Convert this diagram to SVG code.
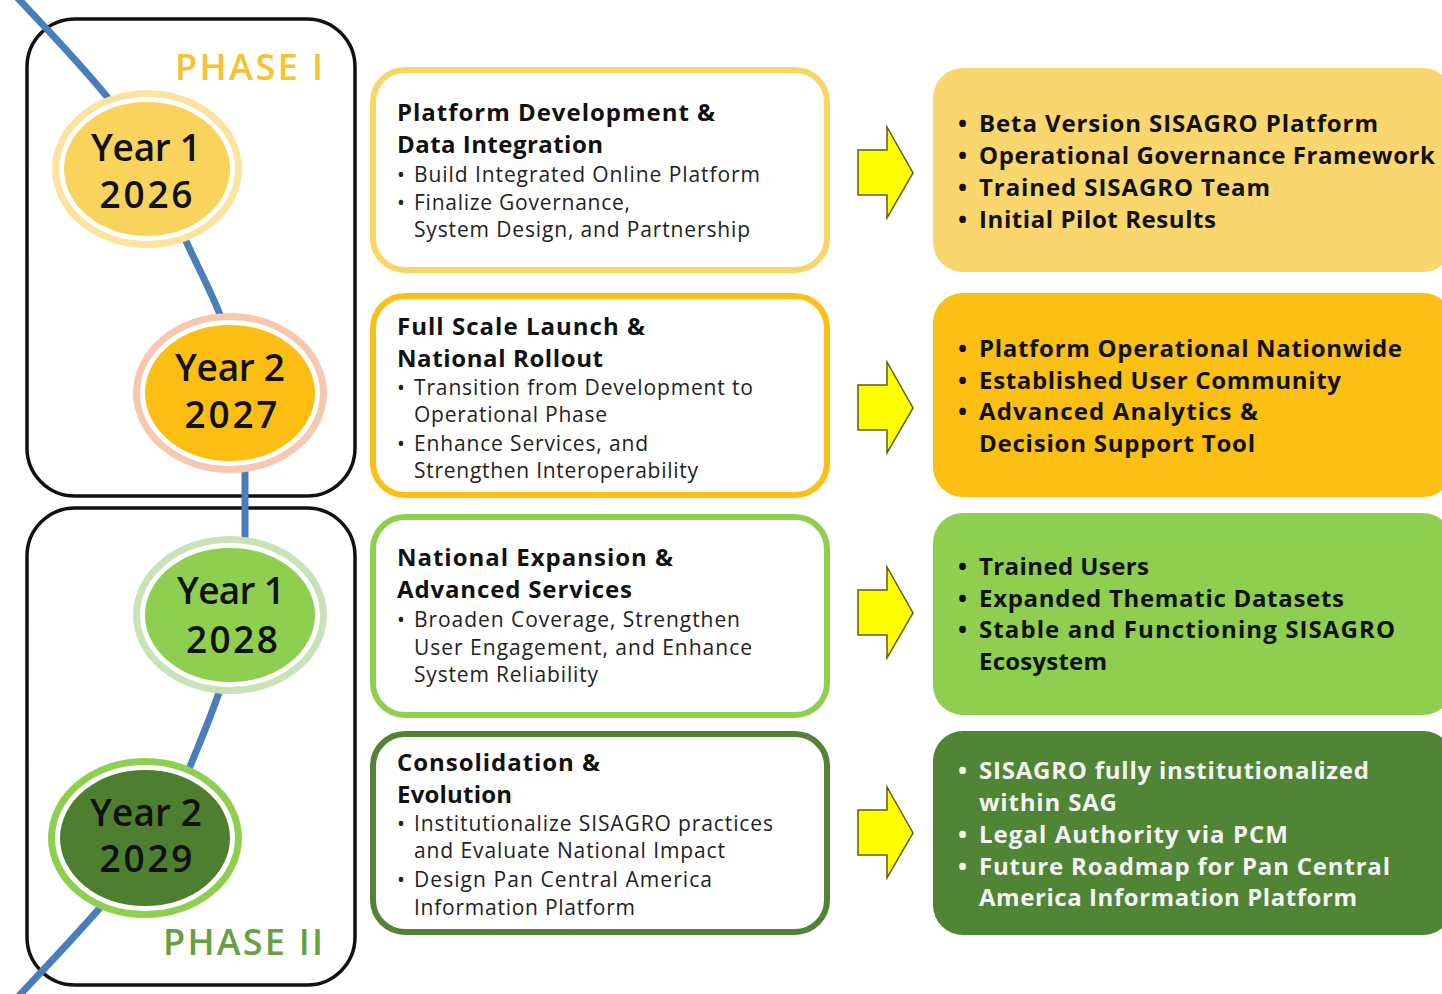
<svg xmlns="http://www.w3.org/2000/svg" xmlns:xlink="http://www.w3.org/1999/xlink" width="1442" height="994" viewBox="0 0 1442 994">
  <style>
    text { font-family: "Open Sans", "Noto Sans", "Liberation Sans", sans-serif; }
    .phasebox { fill: none; stroke: #111; stroke-width: 3.5; }
    .phase { font-size: 36px; font-weight: 600; }
    .year { font-size: 37px; font-weight: 600; fill: #111; text-anchor: middle; }
    .task { fill: #fff; stroke-width: 6; }
    .title { font-size: 24px; font-weight: 700; fill: #111; }
    .item { font-size: 21px; font-weight: 400; fill: #222; }
    .out { font-size: 24px; font-weight: 700; fill: #111; }
    .out.light { fill: #f4f4f4; }
    .timeline { fill: none; stroke: #4a7ebb; stroke-width: 7; }
    .flow { fill: #ffff00; stroke: #5e5e10; stroke-width: 1.5; stroke-linejoin: miter; }
  </style>
  <defs>
    <path id="flowArrow" d="M858 -23 L887 -23 L887 -46 L913 0 L887 45 L887 22 L858 22 Z"/>
  </defs>

  <rect width="1442" height="994" fill="#fff"/>

  <!-- phase frames -->
  <g id="phase-1">
    <rect class="phasebox" x="27" y="19" width="328" height="477" rx="48"/>
    <text class="phase" x="175" y="80" fill="#f7c22e" textLength="148" lengthAdjust="spacing">PHASE I</text>
  </g>
  <g id="phase-2">
    <rect class="phasebox" x="27" y="508" width="328" height="477" rx="48"/>
    <text class="phase" x="163" y="955" fill="#66a043" textLength="160" lengthAdjust="spacing">PHASE II</text>
  </g>

  <!-- connectors: timeline curve and flow arrows -->
  <g id="connectors">
    <path class="timeline" d="M14 -6 C70 55 150 130 175 215 C195 270 235 320 240 400 L245 470 L245 560 C245 640 210 720 180 790 C150 860 90 920 15 1000"/>
    <use xlink:href="#flowArrow" class="flow" transform="translate(0 173)"/>
    <use xlink:href="#flowArrow" class="flow" transform="translate(0 408)"/>
    <use xlink:href="#flowArrow" class="flow" transform="translate(0 613)"/>
    <use xlink:href="#flowArrow" class="flow" transform="translate(0 833)"/>
  </g>

  <!-- year milestones -->
  <g id="year-2026">
    <ellipse cx="147" cy="169" rx="95" ry="79" fill="#fce3a0"/>
    <ellipse cx="147" cy="169" rx="85.5" ry="69.5" fill="#f9d35c" stroke="#fff" stroke-width="5"/>
    <text class="year" x="146" y="161" textLength="110" lengthAdjust="spacing">Year 1</text>
    <text class="year" x="146" y="208" textLength="93" lengthAdjust="spacing">2026</text>
  </g>
  <g id="year-2027">
    <ellipse cx="230" cy="393" rx="97" ry="80" fill="#f4c9b0"/>
    <ellipse cx="230" cy="393" rx="87.5" ry="70.5" fill="#fcbe12" stroke="#fff" stroke-width="5"/>
    <text class="year" x="230" y="381" textLength="110" lengthAdjust="spacing">Year 2</text>
    <text class="year" x="231" y="428" textLength="93" lengthAdjust="spacing">2027</text>
  </g>
  <g id="year-2028">
    <ellipse cx="230" cy="615" rx="97" ry="79" fill="#c9e2b8"/>
    <ellipse cx="230" cy="615" rx="87.5" ry="69.5" fill="#8ecf4f" stroke="#fff" stroke-width="5"/>
    <text class="year" x="231" y="604" textLength="108" lengthAdjust="spacing">Year 1</text>
    <text class="year" x="232" y="653" textLength="92" lengthAdjust="spacing">2028</text>
  </g>
  <g id="year-2029">
    <ellipse cx="145" cy="838" rx="97" ry="80" fill="#8ecf4f"/>
    <ellipse cx="145" cy="838" rx="87.5" ry="70.5" fill="#4e7e2f" stroke="#fff" stroke-width="5"/>
    <text class="year" x="146" y="826" textLength="112" lengthAdjust="spacing">Year 2</text>
    <text class="year" x="146" y="872" textLength="93" lengthAdjust="spacing">2029</text>
  </g>

  <!-- activity boxes -->
  <g id="task-1">
    <rect class="task" x="373" y="70" width="454" height="200" rx="32" stroke="#f9d565"/>
    <text class="title" x="397" y="121" textLength="318" lengthAdjust="spacing">Platform Development &amp;</text>
    <text class="title" x="397" y="153" textLength="206" lengthAdjust="spacing">Data Integration</text>
    <text class="item" x="397" y="182">•</text>
    <text class="item" x="414" y="182" textLength="346" lengthAdjust="spacing">Build Integrated Online Platform</text>
    <text class="item" x="397" y="210">•</text>
    <text class="item" x="414" y="210" textLength="216" lengthAdjust="spacing">Finalize Governance,</text>
    <text class="item" x="414" y="237" textLength="336" lengthAdjust="spacing">System Design, and Partnership</text>
  </g>
  <g id="task-2">
    <rect class="task" x="373" y="296" width="454" height="199" rx="32" stroke="#fcbf13"/>
    <text class="title" x="397" y="335" textLength="248" lengthAdjust="spacing">Full Scale Launch &amp;</text>
    <text class="title" x="397" y="367" textLength="206" lengthAdjust="spacing">National Rollout</text>
    <text class="item" x="397" y="395">•</text>
    <text class="item" x="414" y="395" textLength="339" lengthAdjust="spacing">Transition from Development to</text>
    <text class="item" x="414" y="422" textLength="193" lengthAdjust="spacing">Operational Phase</text>
    <text class="item" x="397" y="451">•</text>
    <text class="item" x="414" y="451" textLength="234" lengthAdjust="spacing">Enhance Services, and</text>
    <text class="item" x="414" y="478" textLength="284" lengthAdjust="spacing">Strengthen Interoperability</text>
  </g>
  <g id="task-3">
    <rect class="task" x="373" y="517" width="454" height="198" rx="32" stroke="#8ecf4f"/>
    <text class="title" x="397" y="566" textLength="276" lengthAdjust="spacing">National Expansion &amp;</text>
    <text class="title" x="397" y="598" textLength="235" lengthAdjust="spacing">Advanced Services</text>
    <text class="item" x="397" y="627">•</text>
    <text class="item" x="414" y="627" textLength="326" lengthAdjust="spacing">Broaden Coverage, Strengthen</text>
    <text class="item" x="414" y="655" textLength="338" lengthAdjust="spacing">User Engagement, and Enhance</text>
    <text class="item" x="414" y="682" textLength="184" lengthAdjust="spacing">System Reliability</text>
  </g>
  <g id="task-4">
    <rect class="task" x="373" y="734" width="454" height="198" rx="32" stroke="#548235"/>
    <text class="title" x="397" y="771" textLength="203" lengthAdjust="spacing">Consolidation &amp;</text>
    <text class="title" x="397" y="803" textLength="115" lengthAdjust="spacing">Evolution</text>
    <text class="item" x="397" y="831">•</text>
    <text class="item" x="414" y="831" textLength="359" lengthAdjust="spacing">Institutionalize SISAGRO practices</text>
    <text class="item" x="414" y="858" textLength="311" lengthAdjust="spacing">and Evaluate National Impact</text>
    <text class="item" x="397" y="887">•</text>
    <text class="item" x="414" y="887" textLength="298" lengthAdjust="spacing">Design Pan Central America</text>
    <text class="item" x="414" y="915" textLength="221" lengthAdjust="spacing">Information Platform</text>
  </g>

  <!-- outcome boxes -->
  <g id="outcome-1">
    <rect x="933" y="68" width="520" height="204" rx="30" fill="#fad66e"/>
    <text class="out" x="958" y="132">•</text>
    <text class="out" x="979" y="132" textLength="399" lengthAdjust="spacing">Beta Version SISAGRO Platform</text>
    <text class="out" x="958" y="164">•</text>
    <text class="out" x="979" y="164" textLength="456" lengthAdjust="spacing">Operational Governance Framework</text>
    <text class="out" x="958" y="196">•</text>
    <text class="out" x="979" y="196" textLength="291" lengthAdjust="spacing">Trained SISAGRO Team</text>
    <text class="out" x="958" y="228">•</text>
    <text class="out" x="979" y="228" textLength="237" lengthAdjust="spacing">Initial Pilot Results</text>
  </g>
  <g id="outcome-2">
    <rect x="933" y="293" width="520" height="204" rx="30" fill="#fcbf13"/>
    <text class="out" x="958" y="357">•</text>
    <text class="out" x="979" y="357" textLength="423" lengthAdjust="spacing">Platform Operational Nationwide</text>
    <text class="out" x="958" y="389">•</text>
    <text class="out" x="979" y="389" textLength="362" lengthAdjust="spacing">Established User Community</text>
    <text class="out" x="958" y="420">•</text>
    <text class="out" x="979" y="420" textLength="279" lengthAdjust="spacing">Advanced Analytics &amp;</text>
    <text class="out" x="979" y="452" textLength="276" lengthAdjust="spacing">Decision Support Tool</text>
  </g>
  <g id="outcome-3">
    <rect x="933" y="513" width="520" height="202" rx="30" fill="#8ecf4f"/>
    <text class="out" x="958" y="575">•</text>
    <text class="out" x="979" y="575" textLength="170" lengthAdjust="spacing">Trained Users</text>
    <text class="out" x="958" y="607">•</text>
    <text class="out" x="979" y="607" textLength="365" lengthAdjust="spacing">Expanded Thematic Datasets</text>
    <text class="out" x="958" y="638">•</text>
    <text class="out" x="979" y="638" textLength="416" lengthAdjust="spacing">Stable and Functioning SISAGRO</text>
    <text class="out" x="979" y="670" textLength="128" lengthAdjust="spacing">Ecosystem</text>
  </g>
  <g id="outcome-4">
    <rect x="933" y="731" width="520" height="204" rx="30" fill="#4f8534"/>
    <text class="out light" x="958" y="779">•</text>
    <text class="out light" x="979" y="779" textLength="390" lengthAdjust="spacing">SISAGRO fully institutionalized</text>
    <text class="out light" x="979" y="811" textLength="138" lengthAdjust="spacing">within SAG</text>
    <text class="out light" x="958" y="843">•</text>
    <text class="out light" x="979" y="843" textLength="309" lengthAdjust="spacing">Legal Authority via PCM</text>
    <text class="out light" x="958" y="875">•</text>
    <text class="out light" x="979" y="875" textLength="411" lengthAdjust="spacing">Future Roadmap for Pan Central</text>
    <text class="out light" x="979" y="906" textLength="378" lengthAdjust="spacing">America Information Platform</text>
  </g>
</svg>
